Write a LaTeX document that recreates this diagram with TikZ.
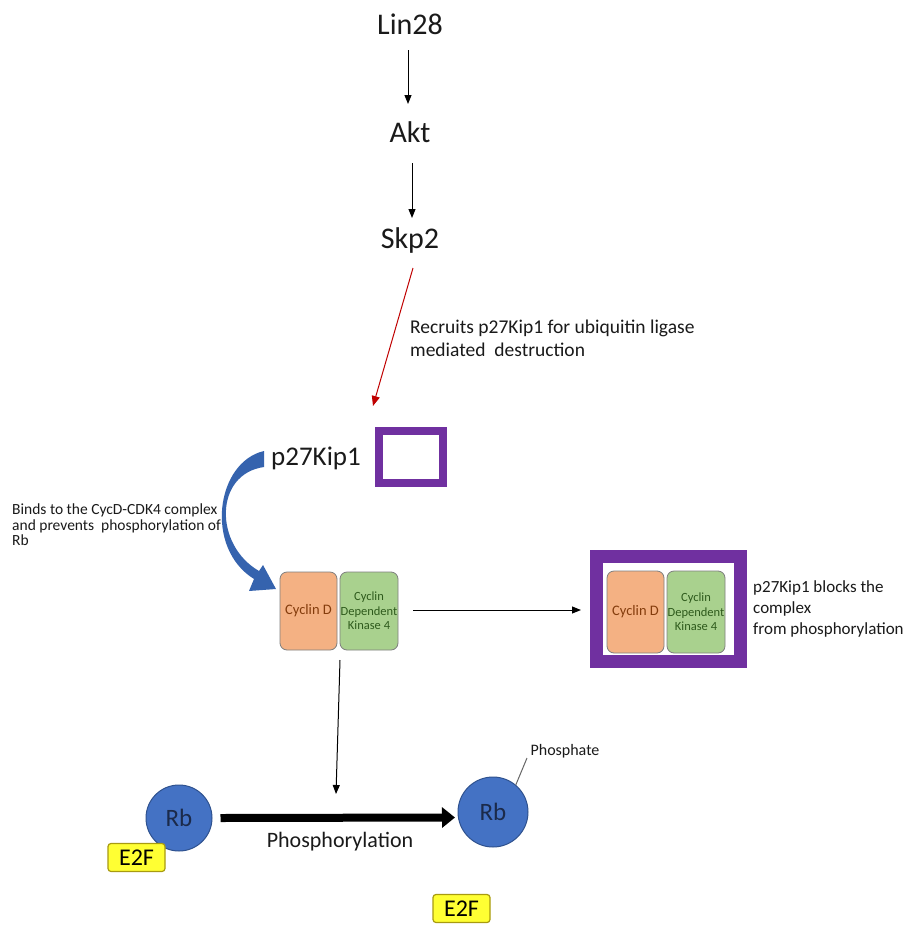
\documentclass[tikz,border=0pt]{standalone}
\usepackage{fontspec}
\setmainfont{Carlito}
\usetikzlibrary{arrows.meta}
\definecolor{purp}{HTML}{7030A0}
\definecolor{redarr}{HTML}{C00000}
\definecolor{rbblue}{HTML}{4472C4}
\definecolor{rbedge}{HTML}{2F528F}
\definecolor{rbtext}{HTML}{1B2A4A}
\definecolor{orangebox}{HTML}{F4B183}
\definecolor{greenbox}{HTML}{A9D18E}
\definecolor{boxedge}{HTML}{7F7F7F}
\definecolor{cyctext}{HTML}{843C0C}
\definecolor{cdktext}{HTML}{2E5A1C}
\definecolor{yel}{HTML}{FFFF33}
\definecolor{yeledge}{HTML}{A89B10}
\definecolor{curvblue}{HTML}{3563AE}
\definecolor{txt}{HTML}{1A1A1A}
\tikzset{
  big/.style={font=\fontsize{30}{32}\selectfont, text=txt, inner sep=0pt},
  thinarrow/.style={-{Triangle[length=9pt,width=7pt]}, line width=1pt, black},
  cycd/.style={draw=boxedge, line width=0.8pt, fill=orangebox, rounded corners=7pt, minimum width=57pt, minimum height=78pt, inner sep=0pt, text=cyctext, font=\fontsize{14.5}{15}\selectfont},
  cdk/.style={draw=boxedge, line width=0.8pt, fill=greenbox, rounded corners=7pt, minimum width=58pt, minimum height=78pt, inner sep=0pt, text=cdktext, font=\fontsize{12.5}{14.5}\selectfont, align=center},
  rbcirc/.style={circle, draw=rbedge, line width=1pt, fill=rbblue, minimum size=66pt, inner sep=0pt, text=rbtext, font=\fontsize{25}{27}\selectfont},
  e2f/.style={draw=yeledge, line width=1.2pt, fill=yel, rounded corners=3pt, minimum width=57pt, minimum height=28pt, inner sep=0pt, text=black, font=\fontsize{24}{26}\selectfont},
  note/.style={text=txt, inner sep=0pt, align=left, anchor=north west}
}
\begin{document}
\begin{tikzpicture}[x=1pt,y=-1pt]
\useasboundingbox (0,0) rectangle (917,926);
\fill[white] (0,0) rectangle (917,926);

% top chain
\node[big] (lin) at (410,24) {Lin28};
\node[big] (akt) at (410,132) {Akt};
\node[big] (skp) at (410,240) {Skp2};
\coordinate (a1s) at (408,50); \coordinate (a1e) at (408,104);
\coordinate (a2s) at (412,163); \coordinate (a2e) at (412,218);
\draw[thinarrow] (a1s) -- (a1e);
\draw[thinarrow] (a2s) -- (a2e);

% red arrow
\coordinate (rs) at (413,268); \coordinate (re) at (373,406);
\draw[redarr, line width=1pt, -{Triangle[length=10pt,width=8pt]}] (rs) -- (re);
\node[note, font=\fontsize{19.5}{23}\selectfont] (recr) at (410,320) {Recruits p27Kip1 for ubiquitin ligase\\mediated\ \ destruction};

% p27Kip1
\node[font=\fontsize{27}{29}\selectfont, text=txt, inner sep=0pt] (p27) at (316,458) {p27Kip1};
\node[draw=purp, line width=8pt, minimum width=64pt, minimum height=52pt, inner sep=0pt] (pbox) at (411,457) {};

% curved blue arrow
\fill[curvblue] (264,451) .. controls (216,462) and (204,548) .. (254,579)
  -- (249,591) -- (276,589) -- (263,565) -- (259,571)
  .. controls (214,545) and (214,474) .. (264,467) -- cycle;
\node[note, font=\fontsize{15.5}{15.5}\selectfont] (binds) at (12,504) {Binds to the CycD-CDK4 complex\\and prevents\ \ phosphorylation of\\Rb};

% left complex
\node[cycd] (cyc1) at (308.5,611) {Cyclin D};
\node[cdk] (cdk1) at (369,611) {Cyclin\\Dependent\\Kinase 4};
\coordinate (h1e) at (581,610);
\draw[thinarrow] (413,610) coordinate (h1s) -- (h1e);

% right blocked complex
\node[draw=purp, line width=13pt, minimum width=144pt, minimum height=105pt, inner sep=0pt] (bigbox) at (668.5,609) {};
\node[cycd, minimum height=82pt] (cyc2) at (635.5,612) {Cyclin D};
\node[cdk, minimum height=82pt] (cdk2) at (696,612) {Cyclin\\Dependent\\Kinase 4};
\node[note, font=\fontsize{17}{21}\selectfont] (blocks) at (753,580) {p27Kip1 blocks the\\complex\\from phosphorylation};

% down arrow
\coordinate (d1s) at (340,660); \coordinate (d1e) at (336,794);
\draw[thinarrow] (d1s) -- (d1e);

% Rb
\node[rbcirc] (rb1) at (179,818) {Rb};
\node[e2f] (e2f1) at (136.5,857.5) {E2F};
\node[rbcirc, minimum size=70pt] (rb2) at (493,812) {Rb};
\draw[line width=8pt, -{Triangle[length=13pt,width=20pt]}] (rb1.east)++(8,0) coordinate (ps) -- (455,817.5) coordinate (pe);
\node[font=\fontsize{22}{24}\selectfont, text=txt, inner sep=0pt] (phos) at (340,842) {Phosphorylation};
\node[font=\fontsize{16}{18}\selectfont, text=txt, inner sep=0pt] (phate) at (565,751) {Phosphate};
\coordinate (pl) at (527,758);
\draw[gray!80!black, line width=1pt] (rb2.50) -- (pl);
\node[e2f] (e2f2) at (461.5,908.5) {E2F};
\end{tikzpicture}
\end{document}
